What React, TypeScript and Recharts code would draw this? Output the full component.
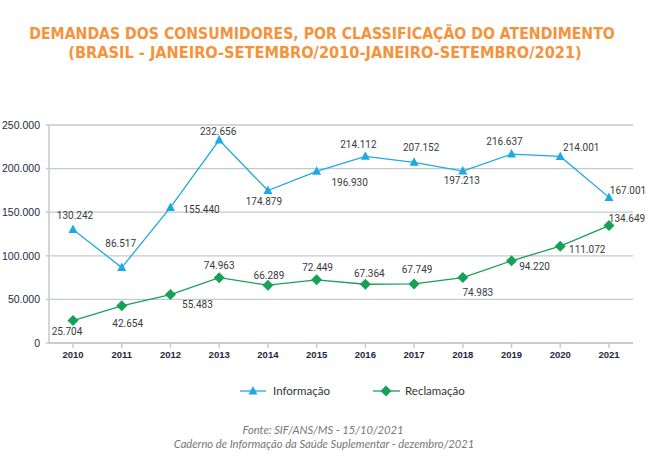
import { CartesianGrid, LabelList, Line, LineChart, XAxis, YAxis } from "recharts";

const YEARS = ["2010", "2011", "2012", "2013", "2014", "2015", "2016", "2017", "2018", "2019", "2020", "2021"];
const INFORMACAO = [130242, 86517, 155440, 232656, 174879, 196930, 214112, 207152, 197213, 216637, 214001, 167001];
const RECLAMACAO = [25704, 42654, 55483, 74963, 66289, 72449, 67364, 67749, 74983, 94220, 111072, 134649];
const Y_TICKS = [0, 50000, 100000, 150000, 200000, 250000];
const SERIES_NAMES = ["Informação", "Reclamação"];
const TITLE_LINES = [
  "DEMANDAS DOS CONSUMIDORES, POR CLASSIFICAÇÃO DO ATENDIMENTO",
  "(BRASIL - JANEIRO-SETEMBRO/2010-JANEIRO-SETEMBRO/2021)",
];
const SOURCE_LINES = [
  "Fonte: SIF/ANS/MS - 15/10/2021",
  "Caderno de Informação da Saúde Suplementar - dezembro/2021",
];

// where each value label sits relative to its point
const INFO_LABEL_POS = [
  [2, -14], [-1, -24], [31, 2], [-1, -9], [-4, 11], [33, 11],
  [-7, -12], [7, -15], [-1, 9], [-7, -13], [21, -9], [19, -7],
];
const RECL_LABEL_POS = [
  [-6, 11], [6, 18], [27, 10], [0, -12], [1, -10], [1, -12],
  [4, -11], [3, -14], [15, 15], [23, 6], [27, 3], [18, -7],
];

const BLUE = "#1fa9e1";
const GREEN = "#17a158";
const GRID = "#c4cad0";
const ORANGE = "#f6923a";

const data = YEARS.map((year, i) => ({
  year,
  informacao: INFORMACAO[i],
  reclamacao: RECLAMACAO[i],
}));

const fmt = (n: number) => String(n).replace(/\B(?=(\d{3})+(?!\d))/g, ".");

const Triangle = ({ cx, cy }: any) =>
  cx == null ? null : (
    <path d={`M${cx},${cy - 5}L${cx + 4.5},${cy + 3.5}L${cx - 4.5},${cy + 3.5}Z`} fill={BLUE} />
  );

const Diamond = ({ cx, cy }: any) =>
  cx == null ? null : (
    <path d={`M${cx},${cy - 5.5}L${cx + 5.5},${cy}L${cx},${cy + 5.5}L${cx - 5.5},${cy}Z`} fill={GREEN} />
  );

const makeLabel = (pos: number[][]) => (props: any) => {
  const { x, y, value, index } = props;
  const [dx, dy] = pos[index] || [0, -10];
  return (
    <text
      x={x + dx}
      y={y + dy}
      textAnchor="middle"
      dominantBaseline="central"
      fontSize={10}
      fontFamily="Roboto, sans-serif"
      fill="#3a3a3a"
    >
      {fmt(value)}
    </text>
  );
};

export default function App() {
  return (
    <div style={{ position: "absolute", left: 0, top: 0, width: 664, height: 462, background: "#fff" }}>
      <LineChart
        width={664}
        height={462}
        data={data}
        margin={{ top: 125, right: 31, left: 0, bottom: 94 }}
      >
        <CartesianGrid vertical={false} stroke={GRID} strokeWidth={1.3} />
        <XAxis
          dataKey="year"
          height={25}
          padding={{ left: 24, right: 24 }}
          stroke={GRID}
          strokeWidth={1.5}
          tickSize={5}
          tickMargin={3}
          tick={{ fontSize: 9.5, fontWeight: "bold", fill: "#1e2740", fontFamily: "Liberation Sans, sans-serif" }}
        />
        <YAxis
          width={49}
          domain={[0, 250000]}
          ticks={Y_TICKS}
          tickFormatter={fmt}
          stroke={GRID}
          strokeWidth={1.5}
          tickSize={3}
          tickMargin={6}
          tick={{ fontSize: 10.5, fill: "#1e2740", fontFamily: "Liberation Sans, sans-serif" }}
        />
        <Line
          dataKey="informacao"
          name={SERIES_NAMES[0]}
          stroke={BLUE}
          strokeWidth={1.3}
          dot={<Triangle />}
          activeDot={false}
          isAnimationActive={false}
        >
          <LabelList dataKey="informacao" content={makeLabel(INFO_LABEL_POS)} />
        </Line>
        <Line
          dataKey="reclamacao"
          name={SERIES_NAMES[1]}
          stroke={GREEN}
          strokeWidth={1.3}
          dot={<Diamond />}
          activeDot={false}
          isAnimationActive={false}
        >
          <LabelList dataKey="reclamacao" content={makeLabel(RECL_LABEL_POS)} />
        </Line>
      </LineChart>
      <svg
        width={664}
        height={462}
        style={{ position: "absolute", left: 0, top: 0, pointerEvents: "none" }}
      >
        <g fontFamily="'DejaVu Sans Condensed', sans-serif" fontWeight="bold" fill={ORANGE} textAnchor="middle">
          <text x={322} y={39} fontSize={15.7}>{TITLE_LINES[0]}</text>
          <text x={325} y={58} fontSize={16.2}>{TITLE_LINES[1]}</text>
        </g>
        <g fontFamily="Lato, sans-serif" fontSize={11.5} fill="#333">
          <line x1={240} x2={266} y1={391} y2={391} stroke={BLUE} strokeWidth={1.3} />
          <Triangle cx={253} cy={391} />
          <text x={273} y={395}>{SERIES_NAMES[0]}</text>
          <line x1={373} x2={400} y1={391} y2={391} stroke={GREEN} strokeWidth={1.3} />
          <Diamond cx={386} cy={391} />
          <text x={405} y={395}>{SERIES_NAMES[1]}</text>
        </g>
        <g fontFamily="Lato, sans-serif" fontStyle="italic" fontSize={11.2} fill="#777" textAnchor="middle">
          <text x={323} y={434}>{SOURCE_LINES[0]}</text>
          <text x={324} y={448}>{SOURCE_LINES[1]}</text>
        </g>
      </svg>
    </div>
  );
}
